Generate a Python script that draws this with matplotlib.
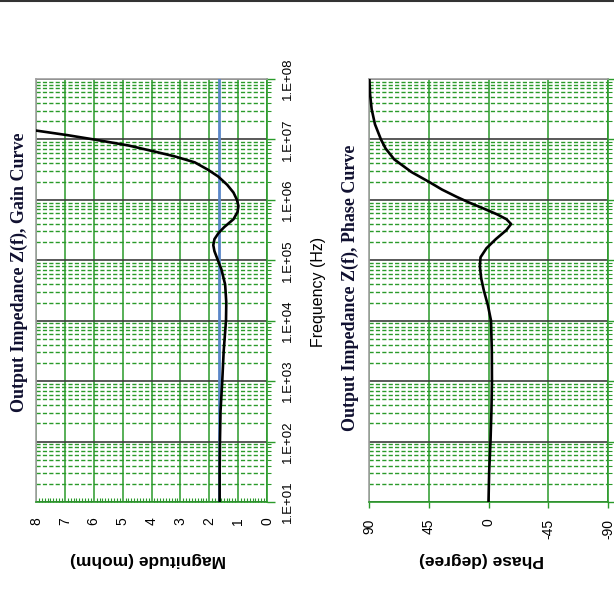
import numpy as np
import matplotlib
matplotlib.use("Agg")
import matplotlib.pyplot as plt
from matplotlib.ticker import FixedLocator, MultipleLocator, LogLocator, NullFormatter
from matplotlib.lines import Line2D

# gain curve: log10(frequency) and magnitude in mohm
gain_logf = [1.0, 1.5, 2.0, 2.5, 3.0, 3.5, 4.0, 4.3, 4.6, 4.85, 5.0, 5.15, 5.25,
             5.35, 5.45, 5.55, 5.68, 5.8, 5.9, 6.0, 6.12, 6.25, 6.39, 6.5, 6.62,
             6.72, 6.8, 6.9, 7.0, 7.07, 7.14, 7.2]
gain_mag = [1.64, 1.64, 1.63, 1.61, 1.55, 1.50, 1.42, 1.41, 1.45, 1.58, 1.70, 1.82,
            1.86, 1.82, 1.68, 1.48, 1.16, 1.02, 0.99, 1.04, 1.16, 1.38, 1.70, 2.05,
            2.5, 3.2, 3.9, 4.8, 6.0, 6.9, 7.9, 8.8]
target_mag = 1.65

# phase curve: log10(frequency) and phase in degree
phase_logf = [1.0, 1.5, 2.0, 2.5, 3.0, 3.5, 4.0, 4.25, 4.5, 4.7, 4.9, 5.05, 5.2,
              5.35, 5.5, 5.6, 5.68, 5.76, 5.85, 5.95, 6.05, 6.17, 6.3, 6.46, 6.67,
              6.85, 7.0, 7.25, 7.5, 7.75, 8.0]
phase_deg = [0, -0.5, -1.5, -2.2, -2.6, -2.5, -1.9, 0.4, 3.5, 5.5, 6.5, 6.0, 1.5,
             -5.5, -13.5, -17.0, -13.5, -6.5, 3.0, 14.0, 24.0, 35.0, 45.0, 58.0,
             71.0, 77.5, 81.0, 85.5, 88.0, 89.2, 89.7]

freq_ticks = [1e1, 1e2, 1e3, 1e4, 1e5, 1e6, 1e7, 1e8]
freq_labels = ["1.E+01", "1.E+02", "1.E+03", "1.E+04", "1.E+05", "1.E+06", "1.E+07", "1.E+08"]
mag_ticks = [0, 1, 2, 3, 4, 5, 6, 7, 8]
phase_ticks = [90, 45, 0, -45, -90]
phase_labels = ["90", "45", "0", "-45", "-90"]

GREEN = "#2a9a2a"
DECADE = "#3c3c3c"
BORDER = "#a0a0a0"
SANS = ["Liberation Sans", "DejaVu Sans"]
SERIF = ["Liberation Serif", "DejaVu Serif"]

W, H = 614, 589
fig = plt.figure(figsize=(W / 100, H / 100), dpi=100)


def px_axes(x0, y0, x1, y1):
    return fig.add_axes([x0 / W, 1 - y1 / H, (x1 - x0) / W, (y1 - y0) / H])


def style_freq_axis(ax, labels=True):
    ax.set_yscale("log")
    ax.set_ylim(1e1, 1e8)
    ax.yaxis.tick_right()
    ax.yaxis.set_major_locator(FixedLocator(freq_ticks))
    ax.yaxis.set_minor_locator(LogLocator(base=10, subs=np.arange(2, 10), numticks=20))
    ax.yaxis.set_minor_formatter(NullFormatter())
    if labels:
        ax.set_yticks(freq_ticks, freq_labels)
        for lab in ax.get_yticklabels():
            lab.set_rotation(90)
            lab.set_va("center")
            lab.set_family(SANS)
            lab.set_fontsize(9.5)
    else:
        ax.set_yticklabels([])
    ax.tick_params(axis="y", which="major", direction="out", length=6, width=1,
                   color=GREEN, pad=5)
    ax.tick_params(axis="y", which="minor", direction="out", length=3, width=0.8,
                   color=GREEN)
    ax.grid(which="major", axis="y", color=DECADE, lw=1.2)
    ax.grid(which="minor", axis="y", color=GREEN, lw=1.0, ls=(0, (3, 1.6)))
    ax.grid(which="major", axis="x", color=GREEN, lw=1.1)
    for side in ("left", "top"):
        ax.spines[side].set_color(BORDER)
        ax.spines[side].set_linewidth(1.2)
    for side in ("right", "bottom"):
        ax.spines[side].set_color(GREEN)
        ax.spines[side].set_linewidth(1.2)


# ---- gain curve ----
ax_g = px_axes(36, 79, 267, 502)
style_freq_axis(ax_g, labels=True)
ax_g.set_xlim(8, 0)
ax_g.set_xticks(mag_ticks, [str(t) for t in mag_ticks])
ax_g.xaxis.set_minor_locator(MultipleLocator(0.1))
ax_g.tick_params(axis="x", which="major", length=0, pad=11, labelrotation=90,
                 labelsize=10)
ax_g.tick_params(axis="x", which="minor", direction="in", length=3, width=0.8,
                 color=GREEN)
for lab in ax_g.get_xticklabels():
    lab.set_family(SANS)
ax_g.axvline(target_mag, color="#5a86c8", lw=2.0, zorder=3)
ax_g.plot(gain_mag, 10 ** np.array(gain_logf), color="black", lw=1.9, zorder=4)

# ---- phase curve ----
ax_p = px_axes(369, 79, 608, 502)
style_freq_axis(ax_p, labels=False)
ax_p.set_xlim(90, -90)
ax_p.set_xticks(phase_ticks, phase_labels)
ax_p.tick_params(axis="x", which="major", direction="out", length=4, width=1,
                 color=GREEN, pad=8, labelrotation=90, labelsize=10)
for lab in ax_p.get_xticklabels():
    lab.set_family(SANS)
ax_p.plot(phase_deg, 10 ** np.array(phase_logf), color="black", lw=1.9, zorder=4)

# ---- texts ----
fig.text(148 / W, 1 - 560 / H, "Magnitude (mohm)", rotation=180, ha="center",
         va="center", fontsize=12.5, fontweight="bold", family=SANS)
fig.text(482 / W, 1 - 560 / H, "Phase (degree)", rotation=180, ha="center",
         va="center", fontsize=12.5, fontweight="bold", family=SANS)
fig.text(318 / W, 1 - 292 / H, "Frequency (Hz)", rotation=90, ha="center",
         va="center", fontsize=11.5, family=SANS)
fig.text(19 / W, 1 - 272 / H, "Output Impedance Z(f), Gain Curve", rotation=90,
         ha="center", va="center", fontsize=13, fontweight="bold", family=SERIF,
         color="#101030")
fig.text(350 / W, 1 - 288 / H, "Output Impedance Z(f), Phase Curve", rotation=90,
         ha="center", va="center", fontsize=13, fontweight="bold", family=SERIF,
         color="#101030")

fig.add_artist(Line2D([0, 1], [1 - 1 / H, 1 - 1 / H], transform=fig.transFigure,
                      color="#333333", lw=1.5))

fig.savefig("out.png", dpi=100)
